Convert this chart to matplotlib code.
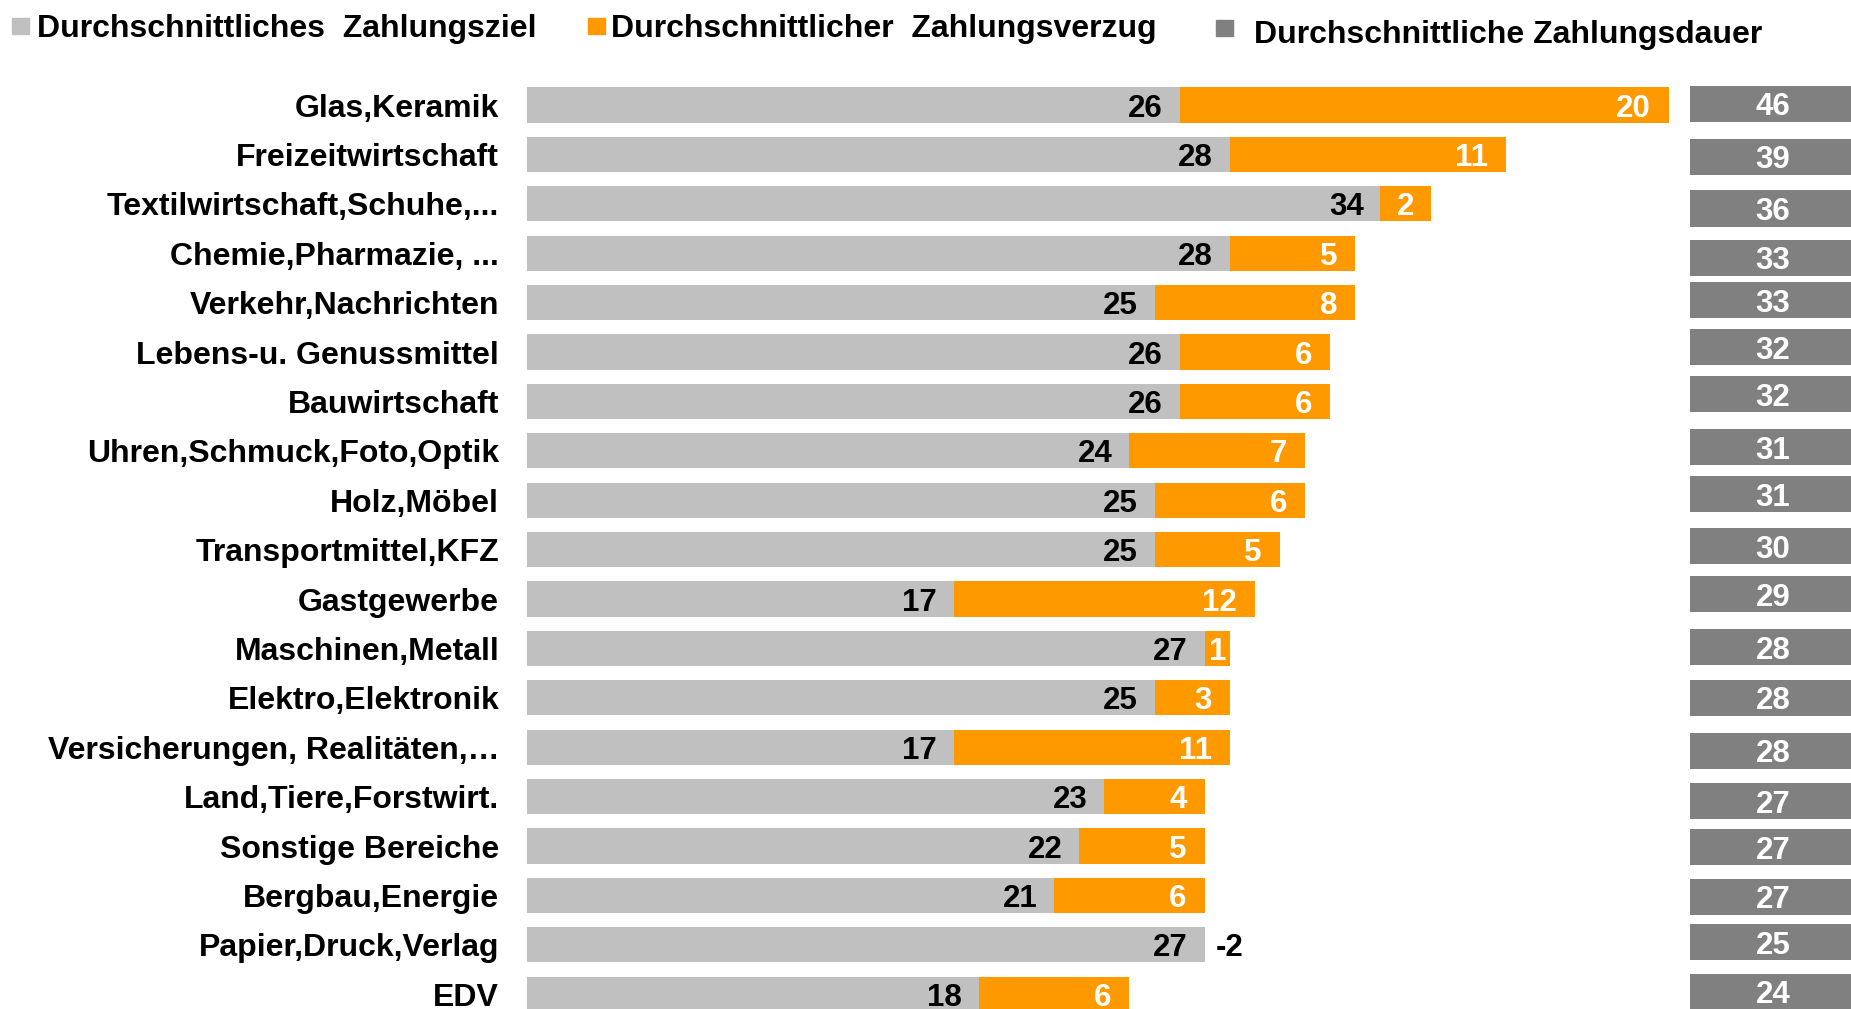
import matplotlib
matplotlib.use("Agg")
import matplotlib.pyplot as plt

plt.rcParams['font.family'] = ['Liberation Sans', 'DejaVu Sans']
plt.rcParams['font.weight'] = 'bold'

branchen = ["Glas,Keramik", "Freizeitwirtschaft", "Textilwirtschaft,Schuhe,...",
            "Chemie,Pharmazie, ...", "Verkehr,Nachrichten", "Lebens-u. Genussmittel",
            "Bauwirtschaft", "Uhren,Schmuck,Foto,Optik", "Holz,Möbel",
            "Transportmittel,KFZ", "Gastgewerbe", "Maschinen,Metall",
            "Elektro,Elektronik", "Versicherungen, Realitäten,…",
            "Land,Tiere,Forstwirt.", "Sonstige Bereiche", "Bergbau,Energie",
            "Papier,Druck,Verlag", "EDV"]
zahlungsziel = [26, 28, 34, 28, 25, 26, 26, 24, 25, 25, 17, 27, 25, 17, 23, 22, 21, 27, 18]
zahlungsverzug = [19.5, 11, 2, 5, 8, 6, 6, 7, 6, 5, 12, 1, 3, 11, 4, 5, 6, -2, 6]
zahlungsdauer = [46, 39, 36, 33, 33, 32, 32, 31, 31, 30, 29, 28, 28, 28, 27, 27, 27, 25, 24]

legend_labels = ["Durchschnittliches  Zahlungsziel", "Durchschnittlicher  Zahlungsverzug",
                 "Durchschnittliche Zahlungsdauer"]

# the grey boxes on the right are a bit out of line in the original (pixels, + = down)
box_shift = [-1, 2, 4, 4, -2, -4, -6, -3, -5, -3, -4, -1, 0, 3, 4, 1, 1, -2, -2]

c_ziel = "#c0c0c0"
c_verzug = "#ff9900"
c_dauer = "#808080"
fs = 22.5

W, H = 1851, 1009
fig = plt.figure(figsize=(W / 100, H / 100), dpi=100)
ax = fig.add_axes([527 / W, 0, 1 - 527 / W, 1])

y = list(range(len(branchen)))
px_unit = 25.1
row = 49.4
ax.set_xlim(0, (W - 527) / px_unit)
ax.set_ylim((H - 105) / row, -105 / row)

ax.barh(y, zahlungsziel, height=0.71, color=c_ziel)
verzug_pos = [max(v, 0) for v in zahlungsverzug]
ax.barh(y, verzug_pos, left=zahlungsziel, height=0.71, color=c_verzug)

box_left = (1690 - 527) / px_unit
box_y = [i + s * 1.18 / row for i, s in zip(y, box_shift)]
ax.barh(box_y, [20] * len(y), left=box_left, height=0.73, color=c_dauer)

dy = -8.3  # points, puts the baseline so digits sit centred in the bar
for i in y:
    z = zahlungsziel[i]
    v = zahlungsverzug[i]
    ax.annotate(f"{z:.0f}", (z, i), xytext=(-12, dy), textcoords="offset points",
                ha="right", va="baseline", fontsize=fs, color="black")
    if v > 0:
        if v * px_unit < 60:
            ax.annotate(f"{v:.0f}", (z + v / 2, i), xytext=(0, dy), textcoords="offset points",
                        ha="center", va="baseline", fontsize=fs, color="white")
        else:
            ax.annotate(f"{v:.0f}", (z + v, i), xytext=(-13, dy), textcoords="offset points",
                        ha="right", va="baseline", fontsize=fs, color="white")
    else:
        ax.annotate(f"{v:.0f}", (z, i), xytext=(8, dy), textcoords="offset points",
                    ha="left", va="baseline", fontsize=fs, color="black")
    ax.annotate(f"{zahlungsdauer[i]}", ((1773 - 527) / px_unit, box_y[i]), xytext=(0, dy),
                textcoords="offset points", ha="center", va="baseline",
                fontsize=fs, color="white")

ax.set_yticks(y)
ax.set_yticklabels(branchen, fontsize=23, fontweight="bold")
ax.tick_params(axis="y", length=0, pad=20)
ax.set_xticks([])
for s in ax.spines.values():
    s.set_visible(False)

# legend drawn by hand
leg_x = [12, 588, 1216]
leg_tx = [37, 611, 1254]
leg_sq = [18, 18, 20]
leg_base = [37, 37, 43.5]
leg_c = [c_ziel, c_verzug, c_dauer]
for lx, tx, sq, bl, c, lab in zip(leg_x, leg_tx, leg_sq, leg_base, leg_c, legend_labels):
    fig.patches.append(plt.Rectangle((lx / W, 1 - (sq + 16) / H), 17 / W, 16 / H,
                                     transform=fig.transFigure, color=c))
    fig.text(tx / W, 1 - bl / H, lab, fontsize=23, ha="left", va="baseline", color="black")

fig.savefig("out.png", dpi=100)
